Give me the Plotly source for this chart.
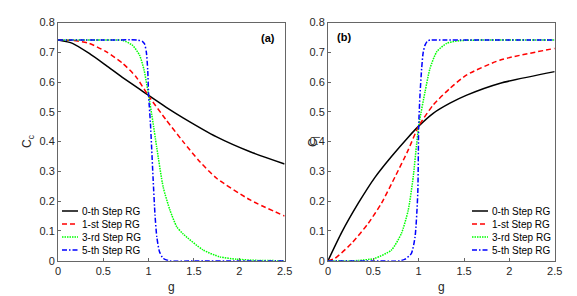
import plotly.graph_objects as go

# ---------------- data ----------------
series_names = ["0-th Step RG", "1-st Step RG", "3-rd Step RG", "5-th Step RG"]

# Panel (a): C_c vs g
g_a0 = [0, 0.16, 0.345, 0.53, 0.71, 0.90, 1.0, 1.19, 1.38, 1.75, 2.12, 2.5]
c_a0 = [0.741, 0.730, 0.696, 0.656, 0.616, 0.576, 0.555, 0.516, 0.480, 0.416, 0.366, 0.325]

g_a1 = [0, 0.16, 0.345, 0.53, 0.713, 0.86, 1.0, 1.19, 1.38, 1.566, 1.75, 2.12, 2.5]
c_a1 = [0.741, 0.740, 0.730, 0.702, 0.663, 0.618, 0.553, 0.474, 0.400, 0.332, 0.277, 0.204, 0.150]

g_a3 = [0, 0.5, 0.713, 0.82, 0.90, 0.95, 1.0, 1.044, 1.088, 1.16, 1.235, 1.31, 1.38, 1.60, 1.785, 1.97, 2.2, 2.5]
c_a3 = [0.741, 0.741, 0.740, 0.724, 0.690, 0.640, 0.555, 0.472, 0.383, 0.248, 0.170, 0.114, 0.090, 0.036, 0.013, 0.005, 0.001, 0.0]

g_a5 = [0, 0.5, 0.88, 0.93, 0.955, 0.975, 0.99, 1.0, 1.02, 1.05, 1.07, 1.09, 1.12, 1.16, 1.22, 1.5, 2.0, 2.5]
c_a5 = [0.741, 0.741, 0.741, 0.737, 0.728, 0.700, 0.640, 0.553, 0.460, 0.271, 0.155, 0.080, 0.030, 0.008, 0.0, 0.0, 0.0, 0.0]

# Panel (b): C_l vs g
g_b0 = [0, 0.151, 0.334, 0.518, 0.70, 0.885, 1.0, 1.16, 1.345, 1.53, 1.90, 2.5]
c_b0 = [0.0, 0.095, 0.193, 0.280, 0.350, 0.415, 0.452, 0.495, 0.529, 0.556, 0.596, 0.635]

g_b1 = [0, 0.077, 0.26, 0.445, 0.59, 0.74, 0.885, 1.0, 1.16, 1.345, 1.53, 1.90, 2.5]
c_b1 = [0.0, 0.008, 0.058, 0.126, 0.193, 0.282, 0.372, 0.452, 0.523, 0.579, 0.624, 0.674, 0.713]

g_b3 = [0, 0.3, 0.518, 0.70, 0.81, 0.885, 0.94, 0.978, 1.0, 1.014, 1.07, 1.125, 1.2, 1.31, 1.455, 1.7, 2.0, 2.5]
c_b3 = [0.0, 0.0, 0.008, 0.036, 0.092, 0.170, 0.282, 0.394, 0.452, 0.478, 0.567, 0.646, 0.702, 0.730, 0.739, 0.741, 0.741, 0.741]

g_b5 = [0, 0.5, 0.80, 0.85, 0.92, 0.96, 0.99, 1.0, 1.015, 1.033, 1.05, 1.07, 1.095, 1.125, 1.3, 2.0, 2.5]
c_b5 = [0.0, 0.0, 0.0, 0.005, 0.025, 0.080, 0.226, 0.452, 0.560, 0.646, 0.700, 0.724, 0.737, 0.741, 0.741, 0.741, 0.741]

x_ticks = [0, 0.5, 1, 1.5, 2, 2.5]
x_tick_labels = ["0", "0.5", "1", "1.5", "2", "2.5"]
y_ticks = [0, 0.1, 0.2, 0.3, 0.4, 0.5, 0.6, 0.7, 0.8]
y_tick_labels = ["0", "0.1", "0.2", "0.3", "0.4", "0.5", "0.6", "0.7", "0.8"]

# ---------------- styles ----------------
colors = ["#000000", "#FF0000", "#00FF00", "#0000FF"]
dashes = ["solid", "5px,3px", "1.5px,1px", "5px,2px,1.5px,2px"]
FONT = "Liberation Sans, Arial, sans-serif"
W, H = 577, 296

def px_x(p):
    return p / W

def px_y(p):
    return 1 - p / H

fig = go.Figure()

panel_a = [(g_a0, c_a0), (g_a1, c_a1), (g_a3, c_a3), (g_a5, c_a5)]
panel_b = [(g_b0, c_b0), (g_b1, c_b1), (g_b3, c_b3), (g_b5, c_b5)]

for i, (gx, cy) in enumerate(panel_a):
    fig.add_trace(go.Scatter(x=gx, y=cy, mode="lines", name=series_names[i], showlegend=False,
                             line=dict(color=colors[i], width=1.5, dash=dashes[i], shape="spline", smoothing=0.6),
                             xaxis="x", yaxis="y"))
for i, (gx, cy) in enumerate(panel_b):
    fig.add_trace(go.Scatter(x=gx, y=cy, mode="lines", name=series_names[i], showlegend=False,
                             line=dict(color=colors[i], width=1.5, dash=dashes[i], shape="spline", smoothing=0.6),
                             xaxis="x2", yaxis="y2"))

axis_common = dict(showline=True, mirror=True, linecolor="#666666", linewidth=1, automargin=False,
                   ticks="inside", ticklen=3, tickcolor="#666666", showgrid=False, zeroline=False,
                   tickfont=dict(family=FONT, size=11, color="#262626"))

ytop = px_y(22.5)
ybot = px_y(260.7)

# ---- manual legends (line samples + labels) ----
shapes = []
annotations = []
legend_rows = [211, 224, 237, 250]
for (lx0, lx1, tx) in [(62, 78, 80), (472, 488, 490)]:
    for i, ry in enumerate(legend_rows):
        shapes.append(dict(type="line", xref="paper", yref="paper",
                           x0=px_x(lx0), x1=px_x(lx1), y0=px_y(ry), y1=px_y(ry),
                           line=dict(color=colors[i], width=1.5, dash=dashes[i])))
        annotations.append(dict(text=series_names[i], x=px_x(tx), y=px_y(ry), xref="paper", yref="paper",
                                xanchor="left", yanchor="middle", showarrow=False,
                                font=dict(family=FONT, size=10, color="#000000")))

annotations += [
    dict(text="g", x=px_x(171), y=px_y(287), xref="paper", yref="paper", showarrow=False,
         xanchor="center", yanchor="middle", font=dict(family=FONT, size=12, color="#262626")),
    dict(text="g", x=px_x(441), y=px_y(287), xref="paper", yref="paper", showarrow=False,
         xanchor="center", yanchor="middle", font=dict(family=FONT, size=12, color="#262626")),
    dict(text="C<sub>c</sub>", x=px_x(28), y=px_y(142), xref="paper", yref="paper", showarrow=False,
         xanchor="center", yanchor="middle",
         textangle=-90, font=dict(family=FONT, size=12, color="#262626")),
    dict(text="C<sub>l</sub>", x=px_x(314), y=px_y(142), xref="paper", yref="paper", showarrow=False,
         xanchor="center", yanchor="middle",
         textangle=-90, font=dict(family=FONT, size=12, color="#262626")),
    dict(text="<b>(a)</b>", x=px_x(268), y=px_y(38), xref="paper", yref="paper", showarrow=False,
         xanchor="center", yanchor="middle", font=dict(family=FONT, size=11, color="#000000")),
    dict(text="<b>(b)</b>", x=px_x(344), y=px_y(37), xref="paper", yref="paper", showarrow=False,
         xanchor="center", yanchor="middle", font=dict(family=FONT, size=11, color="#000000")),
]

fig.update_layout(
    width=W, height=H,
    margin=dict(l=0, r=0, t=0, b=0, autoexpand=False),
    paper_bgcolor="white", plot_bgcolor="white",
    showlegend=False,
    xaxis=dict(domain=[px_x(58), px_x(284.6)], range=[0, 2.5], tickvals=x_ticks, ticktext=x_tick_labels,
               anchor="y", **axis_common),
    yaxis=dict(domain=[ybot, ytop], range=[0, 0.8], tickvals=y_ticks, ticktext=y_tick_labels,
               anchor="x", **axis_common),
    xaxis2=dict(domain=[px_x(328), px_x(554.7)], range=[0, 2.5], tickvals=x_ticks, ticktext=x_tick_labels,
                anchor="y2", **axis_common),
    yaxis2=dict(domain=[ybot, ytop], range=[0, 0.8], tickvals=y_ticks, ticktext=y_tick_labels,
                anchor="x2", **axis_common),
    shapes=shapes,
    annotations=annotations,
)

fig.write_html("out.html", config={"displayModeBar": False},
               post_script="document.body.style.margin='0px';document.body.style.padding='0px';")
